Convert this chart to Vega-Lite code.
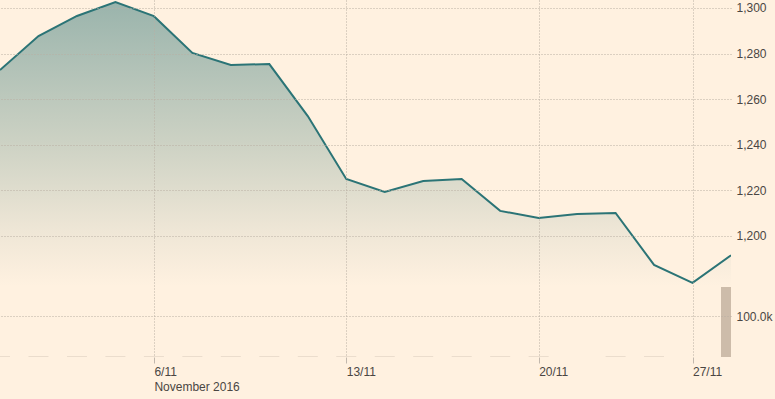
{
  "$schema": "https://vega.github.io/schema/vega-lite/v6.json",
  "width": 731,
  "height": 357,
  "autosize": "none",
  "padding": {"left": 0, "top": 0, "right": 44, "bottom": 42},
  "background": "#fff1e0",
  "config": {
    "view": {"stroke": null},
    "axis": {
      "labelFont": "Liberation Sans",
      "labelFontSize": 12,
      "labelColor": "#4a4643",
      "gridColor": "#b8aea3",
      "gridDash": [1, 2],
      "gridWidth": 1,
      "domain": false,
      "title": null
    }
  },
  "data": {
    "values": [
      {"date": "2016-11-01", "price": 1272.8, "volume": 0},
      {"date": "2016-11-02", "price": 1287.7, "volume": 0},
      {"date": "2016-11-03", "price": 1296.5, "volume": 0},
      {"date": "2016-11-04", "price": 1302.6, "volume": 0},
      {"date": "2016-11-07", "price": 1296.4, "volume": 0},
      {"date": "2016-11-08", "price": 1280.3, "volume": 0},
      {"date": "2016-11-09", "price": 1275.0, "volume": 0},
      {"date": "2016-11-10", "price": 1275.4, "volume": 0},
      {"date": "2016-11-11", "price": 1252.6, "volume": 0},
      {"date": "2016-11-14", "price": 1225.0, "volume": 0},
      {"date": "2016-11-15", "price": 1219.3, "volume": 0},
      {"date": "2016-11-16", "price": 1224.1, "volume": 0},
      {"date": "2016-11-17", "price": 1225.0, "volume": 0},
      {"date": "2016-11-18", "price": 1211.0, "volume": 0},
      {"date": "2016-11-21", "price": 1207.9, "volume": 0},
      {"date": "2016-11-22", "price": 1209.6, "volume": null},
      {"date": "2016-11-23", "price": 1210.1, "volume": 0},
      {"date": "2016-11-25", "price": 1187.3, "volume": 0},
      {"date": "2016-11-28", "price": 1179.4, "volume": null},
      {"date": "2016-11-29", "price": 1191.5, "volume": 171000}
    ]
  },
  "encoding": {
    "x": {
      "field": "date",
      "type": "ordinal",
      "sort": null,
      "scale": {"type": "point", "padding": 0},
      "axis": {
        "values": ["2016-11-07", "2016-11-14", "2016-11-21", "2016-11-28"],
        "labelExpr": "datum.value == '2016-11-07' ? ['6/11', 'November 2016'] : datum.value == '2016-11-14' ? '13/11' : datum.value == '2016-11-21' ? '20/11' : '27/11'",
        "labelAngle": 0,
        "labelAlign": "left",
        "labelBaseline": "top",
        "labelDx": 4,
        "labelPadding": 3,
        "labelLineHeight": 15,
        "ticks": true,
        "tickSize": 6,
        "tickColor": "#c2b8ad",
        "grid": true,
        "zindex": 1
      }
    }
  },
  "layer": [
    {
      "layer": [
        {
          "mark": {
            "type": "area",
            "clip": true,
            "color": {
              "x1": 0, "y1": 0, "x2": 0, "y2": 1,
              "gradient": "linear",
              "stops": [
                {"offset": 0, "color": "#9ab4ac"},
                {"offset": 0.5, "color": "#cdd2c4"},
                {"offset": 0.8, "color": "#eee6d6"},
                {"offset": 1, "color": "#fff1e0"}
              ]
            }
          },
          "encoding": {
            "y": {
              "field": "price",
              "type": "quantitative",
              "scale": {"domain": [1146.9, 1303.5], "nice": false, "zero": false},
              "axis": {
                "orient": "right",
                "values": [1200, 1220, 1240, 1260, 1280, 1300],
                "labelExpr": "format(datum.value, ',d')",
                "ticks": false,
                "labelPadding": 5,
                "grid": true,
                "zindex": 1
              }
            },
            "y2": {"datum": 1178}
          }
        },
        {
          "mark": {"type": "line", "color": "#2b7476", "strokeWidth": 2, "clip": true},
          "encoding": {
            "y": {"field": "price", "type": "quantitative"}
          }
        }
      ]
    },
    {
      "layer": [
        {
          "transform": [{"filter": "datum.volume === 0"}],
          "mark": {"type": "tick", "size": 20, "thickness": 1, "color": "#c4b7a9", "clip": true},
          "encoding": {
            "y": {
              "field": "volume",
              "type": "quantitative",
              "scale": {"domain": [0, 870732], "nice": false},
              "axis": {
                "orient": "right",
                "values": [100000],
                "labelExpr": "format(datum.value / 1000, '.1f') + 'k'",
                "ticks": false,
                "labelPadding": 5,
                "grid": true,
                "zindex": 1
              }
            }
          }
        },
        {
          "transform": [{"filter": "datum.volume > 0"}],
          "mark": {"type": "bar", "width": 20, "color": "#cdbcaa", "clip": true},
          "encoding": {
            "y": {"field": "volume", "type": "quantitative"}
          }
        }
      ]
    }
  ],
  "resolve": {"scale": {"y": "independent"}}
}
